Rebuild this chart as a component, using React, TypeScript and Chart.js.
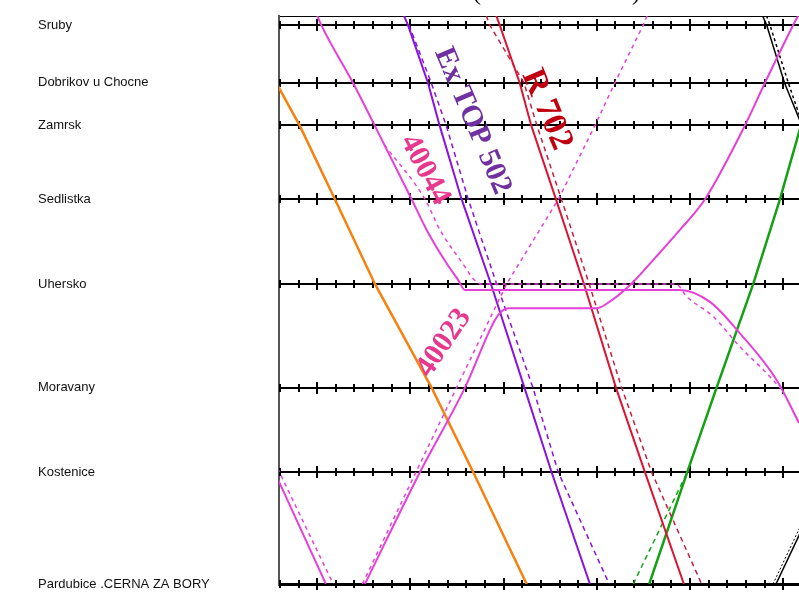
import React, { useEffect, useRef } from 'react';
import { Chart, registerables } from 'chart.js';

Chart.register(...registerables);

type Pt = [number, number]; // [minutes, km]

// ---- stations (y axis) ----
const stationNames = [
  'Pardubice .CERNA ZA BORY',
  'Kostenice',
  'Moravany',
  'Uhersko',
  'Sedlistka',
  'Zamrsk',
  'Dobrikov u Chocne',
  'Sruby',
];
const stationKm = [0, 6.0, 10.54, 16.1, 20.65, 24.61, 26.9, 30.0];
const frameTopKm = 30.48;

// ---- time axis (minutes) ----
const timeStart = 5.9;
const timeEnd = 61.69;
const minorTickStep = 2;
const majorTickStep = 10;

// ---- trains: [minute, km] ----
const orangeTrain: Pt[] = [[2.7, 30], [5.6, 26.9], [8.11, 24.61], [11.9, 20.65], [16.19, 16.1], [22.27, 10.54], [26.74, 6.0], [32.47, 0]];

const train40044: Pt[] = [[9.6, 31.0], [10.43, 30], [13.83, 26.9], [16.16, 24.61], [20.13, 20.65], [21.74, 19.0], [23.88, 17.21], [25.13, 16.31], [25.85, 15.78], [48.9, 15.78], [52.1, 15.15], [55.35, 13.45], [59.29, 10.95], [61.69, 8.64], [63.5, 6.9]];
const train40044Plan: Pt[] = [[17.21, 23.56], [21.56, 20.65], [23.17, 19.0], [25.6, 17.2], [26.9, 16.3], [27.6, 16.1], [48.49, 16.1], [49.64, 15.42], [52.49, 14.35], [55.35, 12.73], [58.22, 11.31], [59.7, 10.5]];

const train40023: Pt[] = [[15.12, 0], [21.02, 6.0], [25.85, 10.54], [29.07, 14.17], [29.82, 14.65], [30.46, 14.8], [39.98, 14.8], [41.76, 15.29], [43.9, 16.21], [46.23, 17.49], [48.91, 19.0], [51.6, 20.65], [55.89, 24.61], [58.04, 26.9], [61.07, 30], [61.7, 30.6]];
const train40023Plan: Pt[] = [[14.85, 0], [20.59, 6.0], [24.96, 10.54], [30.32, 16.1], [35.88, 20.65], [39.8, 24.61], [41.94, 26.9], [44.98, 30], [45.4, 30.5]];

const localTrain: Pt[] = [[1.2, 10.54], [5.44, 6.0], [10.93, 0]];
const localTrainPlan: Pt[] = [[2.0, 10.54], [5.94, 6.0], [11.72, 0]];

const exTop502: Pt[] = [[19.3, 30.5], [19.73, 30], [21.88, 26.9], [23.13, 24.61], [25.49, 20.65], [28.64, 16.1], [32.23, 10.54], [35.15, 6.0], [39.26, 0]];
const exTop502Plan: Pt[] = [[19.84, 30], [22.23, 26.9], [23.84, 24.61], [26.2, 20.65], [29.25, 16.1], [33.14, 10.54], [35.86, 6.0], [41.33, 0]];

const r702: Pt[] = [[29.21, 30.5], [29.57, 30], [31.72, 26.9], [32.96, 24.61], [35.61, 20.65], [38.62, 16.1], [42.05, 10.54], [45.16, 6.0], [49.34, 0]];
const r702Plan: Pt[] = [[28.13, 30.5], [28.5, 30], [32.18, 26.9], [33.57, 24.61], [36.2, 20.65], [39.18, 16.1], [42.66, 10.54], [45.88, 6.0], [51.24, 0]];

const greenTrain: Pt[] = [[45.62, 0], [49.7, 6.0], [52.85, 10.54], [56.78, 16.1], [59.65, 20.65], [61.9, 24.61]];
const greenTrainPlan: Pt[] = [[43.91, 0], [49.7, 6.0]];

const blackDown: Pt[] = [[57.77, 30.5], [58.22, 30], [60.13, 26.9], [61.99, 24.61]];
const blackDownPlan: Pt[] = [[58.2, 30.5], [58.57, 30], [60.54, 26.9], [62.1, 24.61]];
const blackUp: Pt[] = [[59.22, 0], [64.9, 6.0]];
const blackUpPlan: Pt[] = [[58.9, 0], [64.6, 6.0]];

// ---- train name labels, anchored in data units ----
const labelTexts = ['Ex TOP 502', 'R 702', '40044', '40023'];
const labelTimes = [26.65, 34.6, 21.56, 23.6];
const labelKms = [24.85, 25.45, 22.22, 12.93];
const labelAngles = [67, 67, 62, -56];
const labelSizes = [30, 34, 30, 30];

const MAGENTA = '#e640d8';
const PURPLE = '#8a12e0';
const RED = '#dc1432';
const ORANGE = '#f5820f';
const GREEN = '#14a014';
const labelColors = ['#7030a0', '#c00010', '#e8388e', '#e8388e'];

const toXY = (pts: Pt[]) => pts.map(([t, km]) => ({ x: t, y: km }));

function line(pts: Pt[], color: string, width: number, dash: number[] = [], curved = false) {
  return {
    data: toXY(pts),
    borderColor: color,
    borderWidth: width,
    borderDash: dash,
    pointRadius: 0,
    fill: false,
    tension: 0,
    cubicInterpolationMode: curved ? 'monotone' : 'default',
  } as any;
}

const stationTicksPlugin = {
  id: 'stationTicks',
  beforeDatasetsDraw(chart: any) {
    const { ctx, scales } = chart;
    const x = scales.x;
    const y = scales.y;
    ctx.save();
    ctx.strokeStyle = '#000';
    ctx.lineWidth = 2;
    const first = Math.ceil(timeStart / minorTickStep) * minorTickStep;
    for (const km of stationKm) {
      const py = Math.round(y.getPixelForValue(km));
      for (let t = first; t <= timeEnd; t += minorTickStep) {
        const px = Math.round(x.getPixelForValue(t));
        const h = t % majorTickStep === 0 ? 6 : 4;
        ctx.beginPath();
        ctx.moveTo(px, py - h);
        ctx.lineTo(px, py + h);
        ctx.stroke();
      }
    }
    ctx.restore();
  },
};

const labelsPlugin = {
  id: 'trainLabels',
  afterDatasetsDraw(chart: any) {
    const { ctx, scales } = chart;
    ctx.save();
    ctx.textAlign = 'center';
    ctx.textBaseline = 'middle';
    labelTexts.forEach((txt, i) => {
      const px = scales.x.getPixelForValue(labelTimes[i]);
      const py = scales.y.getPixelForValue(labelKms[i]);
      ctx.save();
      ctx.translate(px, py);
      ctx.rotate((labelAngles[i] * Math.PI) / 180);
      ctx.font = `bold ${labelSizes[i]}px "Liberation Serif", "DejaVu Serif", serif`;
      ctx.fillStyle = labelColors[i];
      ctx.fillText(txt, 0, 0);
      ctx.restore();
    });
    ctx.restore();
  },
  afterDraw(chart: any) {
    const { ctx } = chart;
    ctx.save();
    ctx.fillStyle = '#000';
    ctx.font = '24px "Liberation Serif", serif';
    ctx.textBaseline = 'alphabetic';
    ctx.textAlign = 'left';
    ctx.fillText('(', 473, 0);
    ctx.fillText(')', 632, 0);
    ctx.restore();
  },
};

export default function App() {
  const ref = useRef<HTMLCanvasElement | null>(null);

  useEffect(() => {
    if (!ref.current) return;
    const chart = new Chart(ref.current, {
      type: 'line',
      data: {
        datasets: [
          line(train40044, MAGENTA, 2, [], true),
          line(train40044Plan, MAGENTA, 1.5, [4, 4], true),
          line(train40023, MAGENTA, 2, [], true),
          line(train40023Plan, MAGENTA, 1.5, [4, 4]),
          line(localTrain, MAGENTA, 2),
          line(localTrainPlan, MAGENTA, 1.5, [4, 4]),
          line(exTop502, PURPLE, 2),
          line(exTop502Plan, PURPLE, 1.5, [5, 4]),
          line(r702, RED, 2),
          line(r702Plan, '#c8203c', 1.5, [5, 4]),
          line(greenTrain, GREEN, 2.5),
          line(greenTrainPlan, GREEN, 1.5, [5, 4]),
          line(orangeTrain, ORANGE, 2.5),
          line(blackDown, '#000', 1.5),
          line(blackDownPlan, '#000', 1.5, [3, 3]),
          line(blackUp, '#000', 1.5),
          line(blackUpPlan, '#000', 1, [2, 2]),
        ],
      },
      options: {
        responsive: false,
        animation: false,
        devicePixelRatio: 1,
        layout: { padding: { left: 38, top: 16, right: 0, bottom: 0 } },
        plugins: { legend: { display: false }, tooltip: { enabled: false }, title: { display: false } },
        elements: { point: { radius: 0 } },
        scales: {
          x: {
            type: 'linear',
            min: timeStart,
            max: timeEnd,
            ticks: { display: false },
            grid: { display: false },
            border: { display: true, color: '#000', width: 3 },
            afterFit: (s: any) => {
              s.height = 8;
            },
          },
          y: {
            type: 'linear',
            position: 'left',
            min: 0,
            max: frameTopKm,
            afterBuildTicks: (s: any) => {
              s.ticks = [...stationKm, frameTopKm].map((v) => ({ value: v }));
            },
            afterFit: (s: any) => {
              s.width = 241;
            },
            ticks: {
              autoSkip: false,
              crossAlign: 'far',
              padding: 0,
              color: '#111',
              font: { family: '"Liberation Sans", Arial, sans-serif', size: 13 },
              callback: (v: any) => {
                const i = stationKm.indexOf(Number(v));
                return i >= 0 ? stationNames[i] : '';
              },
            },
            grid: {
              color: '#000',
              drawTicks: false,
              lineWidth: (c: any) =>
                c.tick && c.tick.value === frameTopKm ? 1 : c.tick && c.tick.value === 0 ? 3 : 2,
            },
            border: { display: true, color: '#555', width: 2 },
          },
        },
      } as any,
      plugins: [stationTicksPlugin, labelsPlugin],
    });
    return () => chart.destroy();
  }, []);

  return (
    <canvas
      ref={ref}
      width={799}
      height={592}
      style={{ position: 'fixed', left: 0, top: 0, display: 'block', background: '#fff' }}
    />
  );
}
